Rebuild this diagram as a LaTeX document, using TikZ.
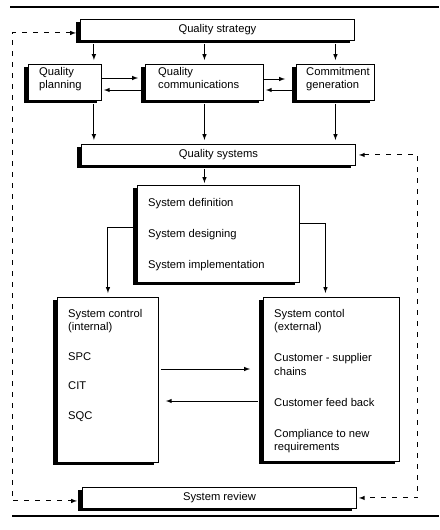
\documentclass[tikz,border=0pt]{standalone}
\usepackage{fontspec}
\setmainfont{Liberation Sans}
\usetikzlibrary{shadows}

\def\boxtext#1#2#3#4{%
      \node[txt] (#1text) at ([shift={(#2pt,-#3pt)}]#1.north west) {#4};
  }

\begin{document}
\begin{tikzpicture}[x=1pt, y=-1pt,
  font = \fontsize{11.2}{13.5}\selectfont,
  box/.style = {draw, fill=white, line width=.9pt
    , anchor=north west, inner sep=0pt
    , drop shadow={shadow xshift=-4pt, shadow yshift=-3pt, fill=black, opacity=1}},
  txt/.style = {anchor=north west, align=left, inner sep=0pt},
  feedback/.style = {dash pattern=on 5pt off 6pt, line width=1pt, latex-latex}]

 \useasboundingbox (0,0) rectangle (439,530);
 \draw[line width=2pt] (10,7) -- (439,7);
 \draw[line width=2pt] (12,516) -- (439,516);

 \node[box, minimum width=274pt, minimum height=21pt] (strategy) at (80,19) {Quality strategy};
 \node[box, minimum width=73pt, minimum height=36pt] (planning) at (28,64) {};
 \node[box, minimum width=118pt, minimum height=36pt] (comms) at (145,64) {};
 \node[box, minimum width=78pt, minimum height=36pt] (commit) at (296,64) {};
 \node[box, minimum width=274pt, minimum height=21pt] (systems) at (81,144) {Quality systems};
 \node[box, minimum width=162pt, minimum height=97pt] (sysdef) at (137,185) {};
 \node[box, minimum width=101pt, minimum height=165pt] (internal) at (57,297) {};
 \node[box, minimum width=136pt, minimum height=164pt] (external) at (263,297) {};
 \node[box, minimum width=274pt, minimum height=21pt] (review) at (82,487) {System review};

 \boxtext{planning}{11}{3}{Quality\\planning}
 \boxtext{comms}{13}{3}{Quality\\communications}
 \boxtext{commit}{10}{3}{Commitment\\generation}
 \boxtext{sysdef}{11}{13}{System definition\\[17.5pt]System designing\\[17.5pt]System implementation}
 \boxtext{internal}{11}{12}{System control\\(internal)\\[16pt]SPC\\[16pt]CIT\\[16pt]SQC}
 \boxtext{external}{11}{12}{System contol\\(external)\\[17.5pt]Customer - supplier\\chains\\[17.5pt]Customer feed back\\[17.5pt]Compliance to new\\requirements}

 \begin{scope}[-latex, line width=1pt]
  \coordinate (a1) at ([xshift=-8pt]planning.north east);
  \draw[shorten <=3pt, shorten >=4pt] (a1 |- strategy.south) -- (a1);
  \draw[shorten <=3pt, shorten >=4pt] (comms.north |- strategy.south) -- (comms.north);
  \draw[shorten <=3pt, shorten >=4pt] (commit.north |- strategy.south) -- (commit.north);
  \draw[shorten <=3pt, shorten >=4pt] (a1 |- planning.south) -- (a1 |- systems.north);
  \draw[shorten <=3pt, shorten >=4pt] (comms.south) -- (comms.south |- systems.north);
  \draw[shorten <=3pt, shorten >=4pt] (commit.south) -- (commit.south |- systems.north);
  \draw[shorten >=7pt] ([yshift=-14pt]planning.north east) -- ([yshift=-14pt]comms.north west);
  \draw[shorten <=4pt, shorten >=2pt] ([yshift=-26pt]comms.north west) -- ([yshift=-26pt]planning.north east);
  \draw[shorten >=11pt] ([yshift=-15pt]comms.north east) -- ([yshift=-15pt]commit.north west);
  \draw[shorten <=4pt, shorten >=2pt] ([yshift=-26pt]commit.north west) -- ([yshift=-26pt]comms.north east);
  \draw[shorten <=3pt, shorten >=2pt] (comms.south |- systems.south) -- (comms.south |- sysdef.north);
  \draw[shorten <=4pt, shorten >=4pt] ([yshift=-42pt]sysdef.north west) -| (internal.north);
  \draw[shorten >=4pt] ([yshift=-38pt]sysdef.north east) -| ([xshift=-6pt]external.north);
  \draw[shorten <=2pt, shorten >=13pt] ([yshift=-72pt]internal.north east) -- ([yshift=-72pt]external.north west);
  \draw[shorten <=5pt, shorten >=7pt] ([yshift=-104pt]external.north west) -- ([yshift=-104pt]internal.north east);
 \end{scope}

 \draw[feedback, shorten <=4pt, shorten >=5pt] ([yshift=-3pt]strategy.west) -- ++(-68,0) |- ([yshift=-3pt]review.west);
 \draw[feedback, shorten <=3pt, shorten >=2pt] (systems.east) -- ++(62,0) |- (review.east);
\end{tikzpicture}
\end{document}
